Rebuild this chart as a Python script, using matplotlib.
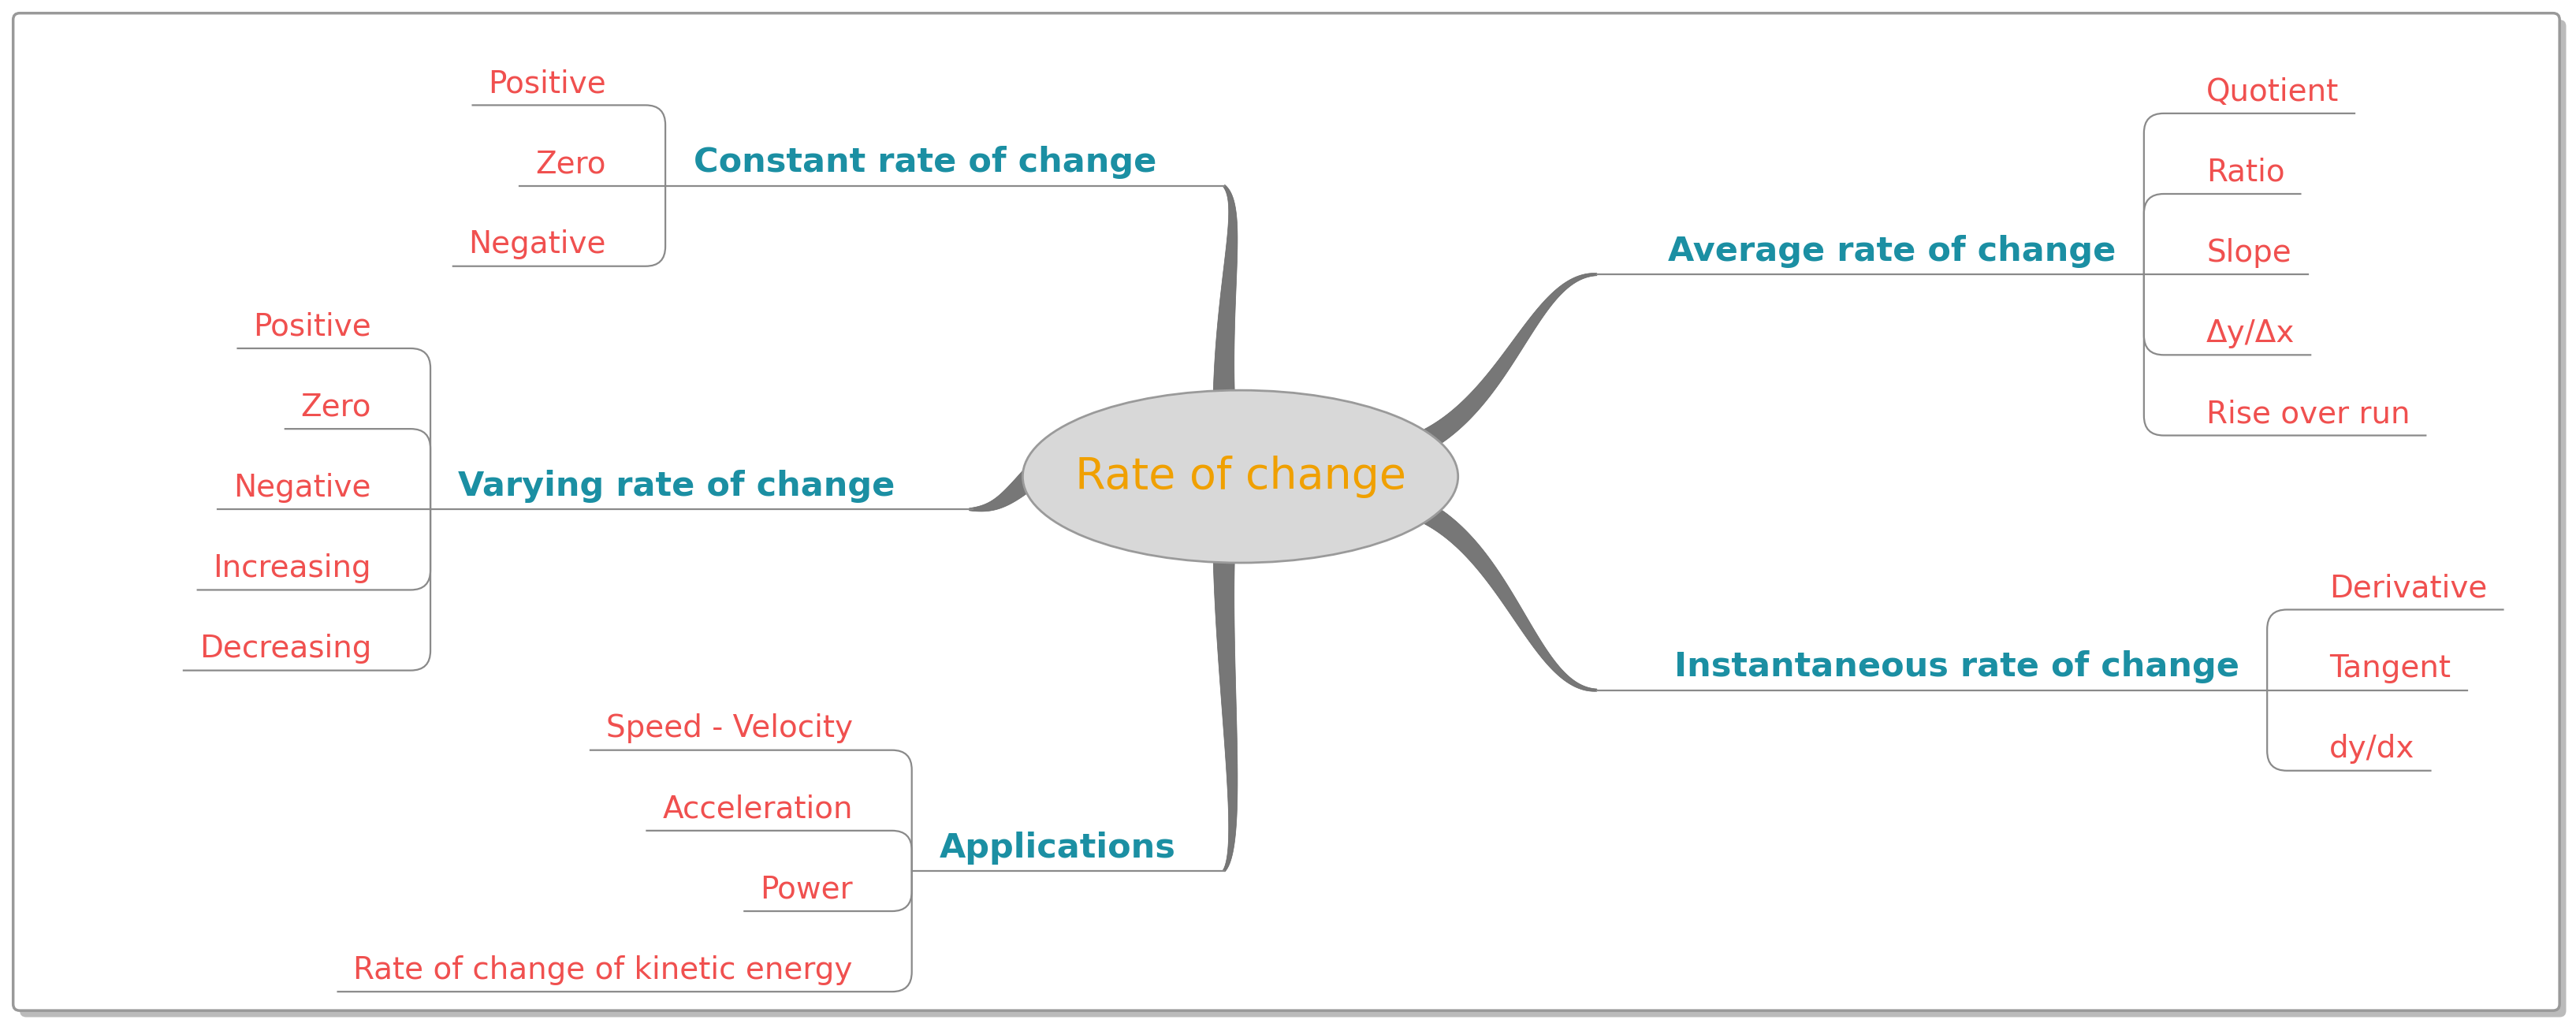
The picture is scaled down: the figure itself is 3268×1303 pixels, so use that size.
import matplotlib
matplotlib.use("Agg")
import matplotlib.pyplot as plt
import numpy as np
from matplotlib.patches import Ellipse, FancyBboxPatch, Polygon
from matplotlib.path import Path as MPath
from matplotlib.patches import PathPatch

CENTER = "Rate of change"
BRANCHES = ["Constant rate of change", "Varying rate of change", "Applications",
            "Average rate of change", "Instantaneous rate of change"]
LEAVES = [
    ["Positive", "Zero", "Negative"],
    ["Positive", "Zero", "Negative", "Increasing", "Decreasing"],
    ["Speed - Velocity", "Acceleration", "Power", "Rate of change of kinetic energy"],
    ["Quotient", "Ratio", "Slope", "Δy/Δx", "Rise over run"],
    ["Derivative", "Tangent", "dy/dx"],
]

# layout (display units of a 1568 x 625 canvas)
# side, junction x, underline y, far x of underline, bezier to centre
LAYOUT = [
    ("L", 405, 113, 745, [(745, 240), (745, 170), (757, 125), (745, 113)]),
    ("L", 262, 310, 592, [(628, 290), (612, 305), (605, 310), (590, 310)]),
    ("L", 555, 530, 745, [(745, 340), (745, 420), (757, 515), (745, 530)]),
    ("R", 1305, 167, 972, [(868, 268), (920, 240), (935, 167), (972, 167)]),
    ("R", 1380, 420, 972, [(868, 312), (920, 340), (935, 420), (972, 420)]),
]
LEAF_GAP = 49

TEAL = "#1b8fa3"
RED = "#f0504f"
GRAY = "#8a8a8a"
ORANGE = "#f0a000"

fig = plt.figure(figsize=(32.68, 13.03), dpi=100)
ax = fig.add_axes([0, 0, 1, 1])
ax.set_xlim(0, 1568)
ax.set_ylim(625, 0)
ax.axis("off")

ax.add_patch(FancyBboxPatch((12, 12), 1550, 607, boxstyle="round,pad=0,rounding_size=4",
                            fc="#bbbbbb", ec="none", zorder=0))
ax.add_patch(FancyBboxPatch((8, 8), 1550, 607, boxstyle="round,pad=0,rounding_size=4",
                            fc="white", ec="#999999", lw=2.5, zorder=1))


def tapered(pts, w0, w1):
    p = np.array(pts, float)
    t = np.linspace(0, 1, 80)[:, None]
    c = ((1 - t) ** 3) * p[0] + 3 * ((1 - t) ** 2) * t * p[1] + 3 * (1 - t) * t ** 2 * p[2] + t ** 3 * p[3]
    d = np.gradient(c, axis=0)
    n = np.stack([-d[:, 1], d[:, 0]], 1)
    n /= np.linalg.norm(n, axis=1)[:, None]
    w = (w0 + (w1 - w0) * t) / 2
    poly = np.vstack([c + n * w, (c - n * w)[::-1]])
    ax.add_patch(Polygon(poly, closed=True, fc="#777777", ec="#666666", lw=0.5, zorder=2))


def bracket(xj, yb, xl, yl, r):
    s = 1 if xl < xj else -1
    if abs(yl - yb) < 1:
        ax.plot([xj, xl], [yl, yl], color=GRAY, lw=1.6, zorder=3)
        return
    sy = 1 if yl > yb else -1
    verts = [(xj, yb), (xj, yl - sy * r), (xj, yl), (xj - s * r, yl), (xl, yl)]
    codes = [MPath.MOVETO, MPath.LINETO, MPath.CURVE3, MPath.CURVE3, MPath.LINETO]
    ax.add_patch(PathPatch(MPath(verts, codes), fc="none", ec=GRAY, lw=1.6, zorder=3))


fig.canvas.draw()
rend = fig.canvas.get_renderer()
inv = ax.transData.inverted()


def text_width(t):
    bb = t.get_window_extent(rend)
    a = inv.transform((bb.x0, bb.y0))
    b = inv.transform((bb.x1, bb.y1))
    return abs(b[0] - a[0])


for name, leaves, (side, xj, yb, xfar, curve) in zip(BRANCHES, LEAVES, LAYOUT):
    tapered(curve, 13, 1.5)
    ax.plot([xj, xfar], [yb, yb], color=GRAY, lw=1.6, zorder=3)
    if side == "L":
        ax.text(xj + 17, yb - 4, name, color=TEAL, fontsize=31, fontweight="bold",
                ha="left", va="bottom", zorder=4)
    else:
        ax.text(xj - 17, yb - 4, name, color=TEAL, fontsize=31, fontweight="bold",
                ha="right", va="bottom", zorder=4)
    n = len(leaves)
    for i, leaf in enumerate(leaves):
        yl = yb + (i - (n - 1) / 2) * LEAF_GAP
        if side == "L":
            t = ax.text(xj - 36, yl - 4, leaf, color=RED, fontsize=28, ha="right", va="bottom", zorder=4)
            x_end = xj - 36 - text_width(t) - 10
        else:
            t = ax.text(xj + 38, yl - 4, leaf, color=RED, fontsize=28, ha="left", va="bottom", zorder=4)
            x_end = xj + 38 + text_width(t) + 10
        bracket(xj, yb, x_end, yl, 12)

ax.add_patch(Ellipse((755, 290), 265, 105, fc="#d8d8d8", ec="#9a9a9a", lw=2, zorder=5))
ax.text(755, 290, CENTER, color=ORANGE, fontsize=40, ha="center", va="center", zorder=6)

fig.savefig("out.png", dpi=100)
